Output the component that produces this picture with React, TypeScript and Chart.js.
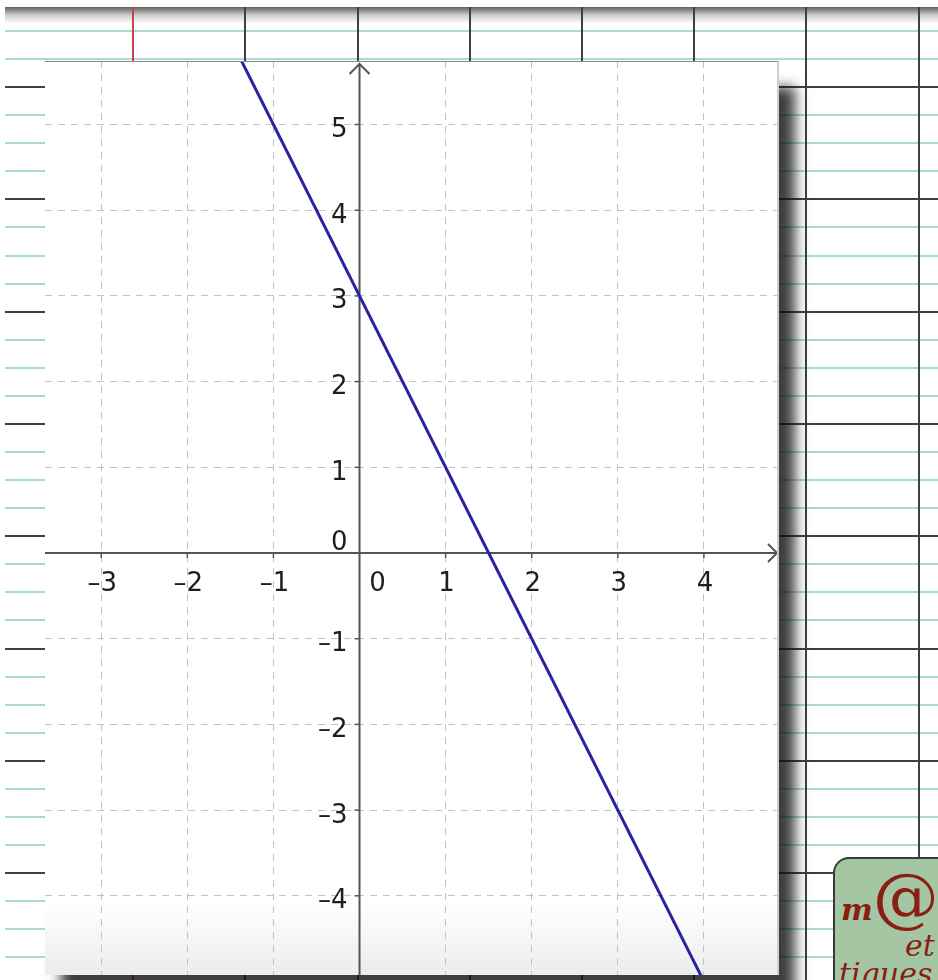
import React, { useEffect, useRef } from "react";
import { Chart, registerables } from "chart.js";

Chart.register(...registerables);

// ---- data ----
const xTicks = [-3, -2, -1, 0, 1, 2, 3, 4];
const yTicks = [-4, -3, -2, -1, 0, 1, 2, 3, 4, 5];
const xTickLabels = ["–3", "–2", "–1", "0", "1", "2", "3", "4"];
const yTickLabels = ["–4", "–3", "–2", "–1", "0", "1", "2", "3", "4", "5"];
// line y = -2x + 3, two points
const lineX = [-1.5, 4];
const lineY = [6, -5];
const xMin = -3.653;
const xMax = 4.872;
const yMin = -4.924;
const yMax = 5.741;

// ---- notebook paper decoration ----
const hLineYs: number[] = [];
for (let k = 0; k < 34; k++) hLineYs.push(31 + k * 28.07);
const vLineXs = [133, 245.2, 357.5, 469.7, 582, 694.2, 806.4, 918.6];

const FONT = '26px "DejaVu Sans", "Noto Sans", sans-serif';

const axesPlugin = {
  id: "ggbAxes",
  beforeDatasetsDraw(chart: any) {
    const { ctx, chartArea: a, scales } = chart;
    const sx = scales.x;
    const sy = scales.y;
    const x0 = sx.getPixelForValue(0);
    const y0 = sy.getPixelForValue(0);
    ctx.save();
    ctx.strokeStyle = "#555555";
    ctx.lineWidth = 2;
    ctx.lineCap = "butt";
    // x axis
    ctx.beginPath();
    ctx.moveTo(a.left, y0);
    ctx.lineTo(a.right - 2, y0);
    ctx.stroke();
    ctx.beginPath();
    ctx.moveTo(a.right - 11, y0 - 9);
    ctx.lineTo(a.right - 2, y0);
    ctx.lineTo(a.right - 11, y0 + 9);
    ctx.stroke();
    // y axis
    ctx.beginPath();
    ctx.moveTo(x0, a.bottom);
    ctx.lineTo(x0, a.top + 3);
    ctx.stroke();
    ctx.beginPath();
    ctx.moveTo(x0 - 10, a.top + 13);
    ctx.lineTo(x0, a.top + 3);
    ctx.lineTo(x0 + 10, a.top + 13);
    ctx.stroke();
    // tick marks
    ctx.lineWidth = 1.5;
    xTicks.forEach((v) => {
      if (v === 0) return;
      const px = sx.getPixelForValue(v);
      ctx.beginPath();
      ctx.moveTo(px, y0);
      ctx.lineTo(px, y0 + 5);
      ctx.stroke();
    });
    yTicks.forEach((v) => {
      if (v === 0) return;
      const py = sy.getPixelForValue(v);
      ctx.beginPath();
      ctx.moveTo(x0, py);
      ctx.lineTo(x0 - 5, py);
      ctx.stroke();
    });
    // labels
    ctx.fillStyle = "#1e1e1e";
    ctx.font = FONT;
    ctx.textBaseline = "alphabetic";
    ctx.textAlign = "center";
    xTicks.forEach((v, i) => {
      const px = v === 0 ? x0 + 18 : sx.getPixelForValue(v) + 1;
      ctx.fillText(xTickLabels[i], px, y0 + 38);
    });
    ctx.textAlign = "right";
    yTicks.forEach((v, i) => {
      const py = v === 0 ? y0 - 3.5 : sy.getPixelForValue(v) + 12.5;
      ctx.fillText(yTickLabels[i], x0 - 12, py);
    });
    ctx.restore();
  },
};

function GraphChart() {
  const ref = useRef<HTMLCanvasElement | null>(null);
  useEffect(() => {
    if (!ref.current) return;
    const chart = new Chart(ref.current, {
      type: "scatter",
      data: {
        datasets: [
          {
            data: lineX.map((x, i) => ({ x, y: lineY[i] })),
            showLine: true,
            borderColor: "#2a22a6",
            borderWidth: 3,
            pointRadius: 0,
            fill: false,
            clip: 0,
          } as any,
        ],
      },
      options: {
        responsive: false,
        animation: false,
        events: [],
        layout: { padding: 0 },
        plugins: { legend: { display: false }, tooltip: { enabled: false } },
        scales: {
          x: {
            type: "linear",
            min: xMin,
            max: xMax,
            afterBuildTicks: (s: any) => {
              s.ticks = xTicks.map((v) => ({ value: v }));
            },
            ticks: { display: false },
            grid: { color: "#c2c2c2", lineWidth: 1, drawTicks: false },
            border: { display: false, dash: [7, 6] },
          },
          y: {
            type: "linear",
            min: yMin,
            max: yMax,
            afterBuildTicks: (s: any) => {
              s.ticks = yTicks.map((v) => ({ value: v }));
            },
            ticks: { display: false },
            grid: { color: "#c2c2c2", lineWidth: 1, drawTicks: false },
            border: { display: false, dash: [7, 6] },
          },
        },
      } as any,
      plugins: [axesPlugin],
    });
    return () => chart.destroy();
  }, []);
  return <canvas ref={ref} width={734} height={914} style={{ display: "block" }} />;
}

export default function App() {
  return (
    <div
      style={{
        position: "fixed",
        left: 0,
        top: 0,
        width: 938,
        height: 980,
        overflow: "hidden",
        background: "#ffffff",
      }}
    >
      {/* notebook paper */}
      <div
        style={{
          position: "absolute",
          left: 5,
          top: 7,
          width: 933,
          height: 17,
          background: "linear-gradient(to bottom, rgba(80,80,80,0.9), rgba(160,160,160,0.5) 50%, rgba(255,255,255,0))",
        }}
      />
      {hLineYs.map((y, i) => {
        const dark = i >= 2 && (i - 2) % 4 === 0;
        return (
          <div
            key={"h" + i}
            style={{
              position: "absolute",
              left: 5,
              top: Math.round(y) - 1,
              width: 933,
              height: 2,
              background: dark ? "#404040" : "#a8dbd8",
            }}
          />
        );
      })}
      {vLineXs.map((x, i) => (
        <div
          key={"v" + i}
          style={{
            position: "absolute",
            left: Math.round(x) - 1,
            top: 7,
            width: 2,
            height: 973,
            background: i === 0 ? "#c9454a" : "#3f3f3f",
          }}
        />
      ))}
      {/* logo */}
      <div
        style={{
          position: "absolute",
          left: 833,
          top: 857,
          width: 140,
          height: 150,
          border: "2px solid #3a3a3a",
          borderRadius: 16,
          background: "#a4c6a3",
          overflow: "hidden",
          color: "#8a1d14",
          fontFamily: '"DejaVu Serif", serif',
          fontStyle: "italic",
        }}
      >
        <div style={{ position: "absolute", left: 6, top: 6, whiteSpace: "nowrap", lineHeight: 1 }}>
          <span style={{ fontSize: 30, fontWeight: "bold" }}>m</span>
          <span style={{ fontSize: 66, fontStyle: "normal", fontWeight: 300 }}>@</span>
          <span style={{ fontSize: 30 }}>ths</span>
        </div>
        <div style={{ position: "absolute", left: 70, top: 72, fontSize: 30, lineHeight: 1 }}>et</div>
        <div style={{ position: "absolute", left: 4, top: 100, fontSize: 30, lineHeight: 1 }}>tiques</div>
      </div>
      {/* GeoGebra panel */}
      <div
        style={{
          position: "absolute",
          left: 45,
          top: 61,
          width: 734,
          height: 914,
          borderTop: "1px solid #8c8c8c",
          borderRight: "2px solid #cfcfcf",
          boxSizing: "border-box",
          background: "linear-gradient(to bottom, #ffffff 0%, #ffffff 92%, #ececec 100%)",
          boxShadow: "16px 26px 12px 0px rgba(15,15,15,0.8)",
          overflow: "hidden",
        }}
      >
        <div style={{ position: "absolute", left: 0, top: -1 }}>
          <GraphChart />
        </div>
      </div>
    </div>
  );
}
